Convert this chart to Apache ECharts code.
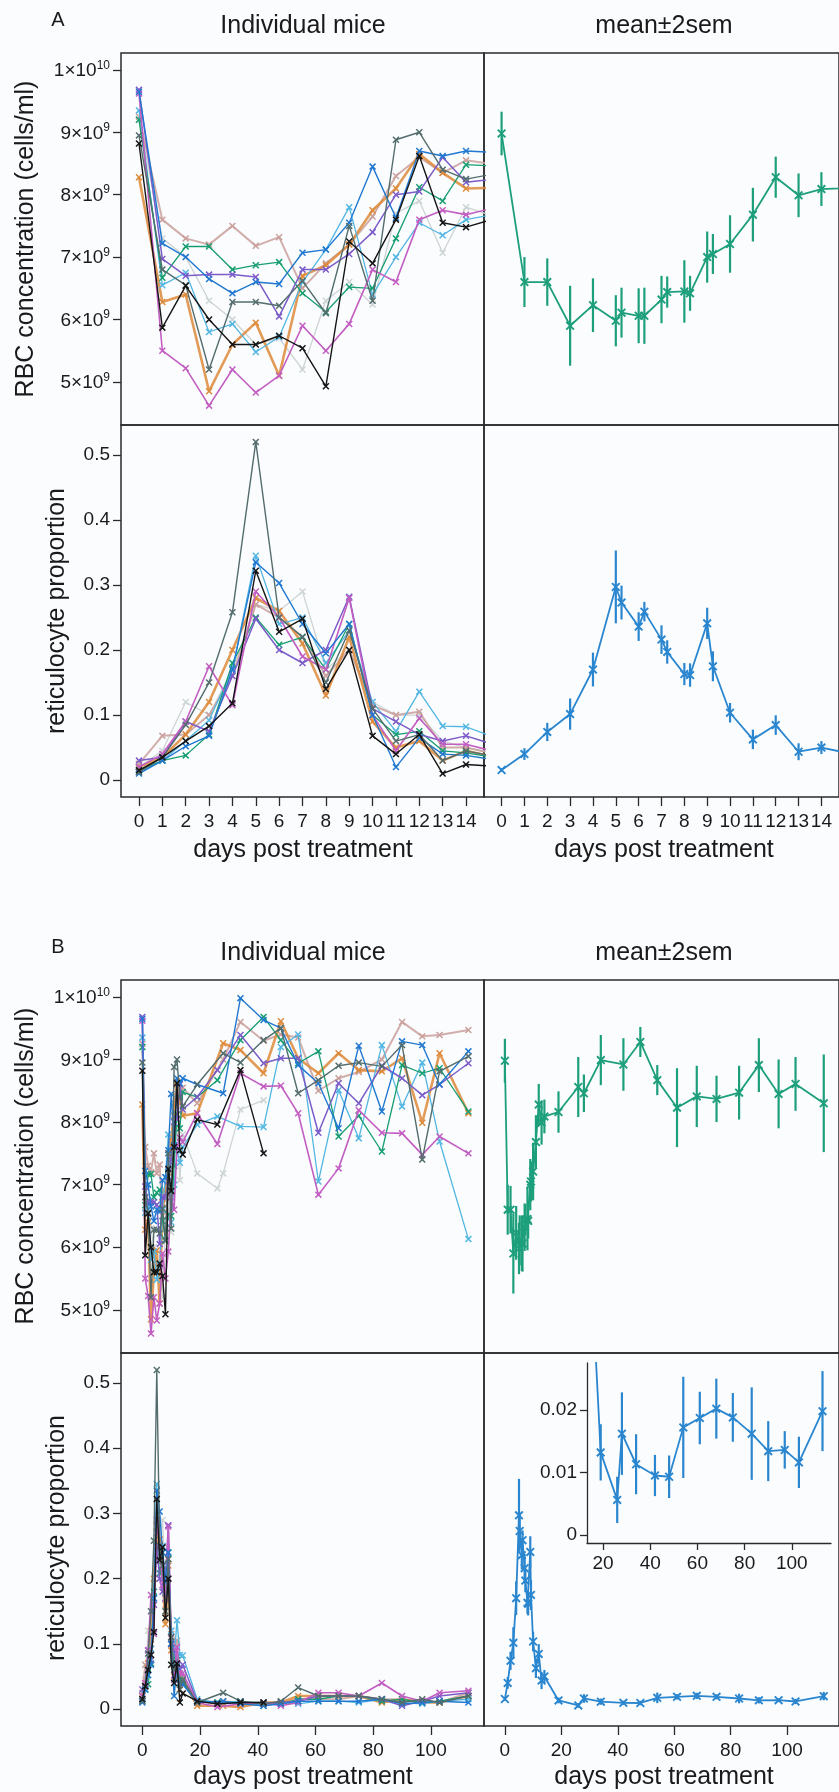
<!DOCTYPE html>
<html><head><meta charset="utf-8">
<script src="https://cdn.jsdelivr.net/npm/echarts@6/dist/echarts.min.js"></script>
<style>html,body{margin:0;padding:0;background:#fbfcfe}#c{width:839px;height:1792px}</style>
</head><body><div id="c"></div><script>
// ---------- DATA ----------
const DAYS_IND = [0,1,2,3,4,5,6,7,8,9,10,11,12,13,14,19,26,28,34,42,48,54,61,68,75,83,90,97,103,113];
const DAYS_MEAN = [0,1,2,3,4,5,5.25,6,6.25,7,7.25,8,8.25,9,9.25,10,11,12,13,14,19,26,28,34,42,48,54,61,68,75,83,90,97,103,113];

// RBC concentration in units of 1e9 cells/ml, one array per mouse
const rbcBlack   = [8.82,5.87,6.54,6.00,5.60,5.60,5.74,5.54,4.93,7.25,6.90,7.60,8.62,7.55,7.48, 8.04,7.96,null,8.83,7.50,null,null,null,null,null,null,null,null,null,null];
const rbcSlate   = [8.95,6.80,6.55,5.20,6.28,6.28,6.22,6.62,6.10,7.50,6.30,8.88,9.00,8.40,8.25, 8.60,null,9.10,8.95,9.31,9.50,8.46,8.67,8.90,8.95,8.89,9.23,7.40,8.81,9.05];
const rbcLight   = [9.20,7.30,7.00,6.30,6.00,5.60,5.70,5.20,6.30,6.60,6.24,7.70,7.90,7.07,7.80, 7.18,6.94,7.18,8.20,8.35,null,null,null,null,null,null,null,null,null,null];
const rbcBlue    = [9.65,7.22,7.00,6.65,6.42,6.60,6.57,7.07,7.12,7.55,8.45,7.63,8.70,8.62,8.70, 8.60,null,8.46,9.98,9.63,9.50,8.91,8.62,7.90,9.22,8.17,9.29,9.23,8.60,9.13];
const rbcCyan    = [9.35,6.55,6.75,5.80,5.93,5.48,5.72,6.60,7.12,7.80,6.40,7.00,7.55,7.35,7.60, 7.96,8.09,null,7.93,7.92,9.20,9.40,7.05,8.51,7.74,9.23,8.25,8.95,7.69,6.13];
const rbcGreen   = [9.20,6.67,7.17,7.17,6.80,6.87,6.92,6.42,6.12,6.52,6.50,7.30,8.12,7.90,8.48, 8.40,8.67,null,9.31,9.68,9.31,8.94,9.13,7.77,8.10,7.53,8.91,8.78,8.86,8.17];
const rbcOrange  = [8.28,6.28,6.40,4.85,5.60,5.95,5.10,6.70,6.87,7.20,7.75,8.10,8.65,8.35,8.10, 8.14,null,9.26,9.15,8.78,9.61,9.02,8.78,9.10,8.83,8.81,9.02,7.99,9.10,8.14];
const rbcTan     = [9.25,7.60,7.30,7.20,7.50,7.18,7.32,6.50,6.90,7.20,7.65,8.30,8.60,8.35,8.55, 8.30,null,9.00,9.60,9.30,9.40,9.35,8.50,8.70,8.80,9.00,9.60,9.37,9.39,9.47];
const rbcPurple  = [9.68,6.97,6.70,6.72,6.72,6.68,6.05,6.80,6.80,7.05,7.40,8.00,8.05,8.60,8.20, 8.40,8.83,null,9.39,8.94,9.02,9.02,7.83,8.62,8.30,8.90,8.70,8.43,8.60,8.94];
const rbcMagenta = [9.62,5.50,5.22,4.62,5.20,4.83,5.10,5.90,5.50,5.93,6.80,6.60,7.60,7.75,7.68, 8.14,7.65,null,8.78,8.57,8.58,8.14,6.84,7.26,8.19,7.83,7.82,7.48,7.77,7.50];

// reticulocyte proportion, one array per mouse
const retBlack   = [0.015,0.035,0.060,0.083,0.118,0.322,0.228,0.248,0.140,0.200,0.068,0.040,0.070,0.010,0.024, 0.012,0.008,null,0.010,0.010,null,null,null,null,null,null,null,null,null,null];
const retSlate   = [0.012,0.035,0.085,0.150,0.258,0.520,0.250,0.220,0.150,0.230,0.110,0.060,0.070,0.030,0.045, 0.010,null,0.025,0.012,0.008,0.012,0.033,0.020,0.020,0.020,0.015,0.010,0.015,0.010,0.020];
const retLight   = [0.020,0.045,0.120,0.100,0.170,0.270,0.260,0.290,0.170,0.200,0.120,0.100,0.100,0.060,0.050, 0.015,0.010,0.012,0.010,0.010,null,null,null,null,null,null,null,null,null,null];
const retBlue    = [0.010,0.030,0.052,0.068,0.170,0.335,0.303,0.240,0.195,0.240,0.100,0.020,0.065,0.040,0.038, 0.010,null,0.012,0.008,0.005,0.008,0.012,0.012,0.012,0.012,0.015,0.008,0.010,0.012,0.010];
const retCyan    = [0.012,0.030,0.060,0.092,0.170,0.345,0.240,0.250,0.180,0.230,0.120,0.075,0.136,0.083,0.082, 0.015,0.010,null,0.012,0.005,0.010,0.008,0.012,0.012,0.010,0.015,0.010,0.008,0.012,0.015];
const retGreen   = [0.015,0.030,0.038,0.070,0.180,0.250,0.208,0.220,0.170,0.240,0.100,0.070,0.075,0.045,0.042, 0.012,0.010,null,0.010,0.010,0.008,0.015,0.015,0.020,0.020,0.012,0.015,0.010,0.012,0.020];
const retOrange  = [0.020,0.035,0.070,0.120,0.200,0.280,0.260,0.210,0.130,0.220,0.090,0.050,0.060,0.030,0.045, 0.005,null,0.005,0.003,0.010,0.010,0.020,0.020,0.020,0.020,0.010,0.015,0.010,0.010,0.020];
const retTan     = [0.025,0.068,0.070,0.100,0.160,0.270,0.250,0.220,0.160,0.200,0.115,0.100,0.105,0.050,0.050, 0.010,null,0.012,0.010,0.005,0.010,0.015,0.015,0.015,0.020,0.015,0.015,0.012,0.010,0.025];
const retPurple  = [0.030,0.035,0.090,0.075,0.160,0.248,0.200,0.180,0.200,0.282,0.110,0.090,0.070,0.060,0.068, 0.012,0.008,null,0.010,0.008,0.010,0.012,0.020,0.020,0.020,0.015,0.005,0.012,0.020,0.025];
const retMagenta = [0.020,0.040,0.090,0.175,0.115,0.290,0.250,0.190,0.170,0.280,0.100,0.045,0.095,0.055,0.055, 0.010,0.003,null,0.008,0.010,0.005,0.010,0.025,0.025,0.020,0.040,0.020,0.012,0.025,0.028];

// means and 2*sem
const meanRBC = [8.98,6.60,6.60,5.90,6.23,5.98,6.11,6.06,6.06,6.32,6.44,6.45,6.42,7.00,7.05,7.21,7.68,8.28,7.99,8.09,8.16,8.56,8.46,8.99,8.92,9.28,8.67,8.23,8.41,8.37,8.47,8.91,8.45,8.61,8.30];
const semRBC  = [0.35,0.40,0.38,0.64,0.43,0.41,0.40,0.44,0.45,0.38,0.25,0.50,0.28,0.41,0.32,0.46,0.43,0.33,0.35,0.27,0.33,0.48,0.30,0.40,0.42,0.24,0.24,0.63,0.49,0.37,0.43,0.43,0.55,0.43,0.78];
const meanRet = [0.0154,0.040,0.074,0.1015,0.170,0.297,0.273,0.236,0.259,0.216,0.197,0.163,0.1615,0.241,0.175,0.1036,0.0626,0.0846,0.0436,0.050,0.0132,0.0056,0.0162,0.0113,0.0095,0.0093,0.0172,0.0187,0.0202,0.0188,0.0162,0.0134,0.0136,0.0116,0.0198];
const semRet  = [0.003,0.009,0.014,0.024,0.026,0.056,0.026,0.022,0.015,0.022,0.018,0.017,0.018,0.024,0.023,0.015,0.015,0.015,0.013,0.010,0.0045,0.0037,0.0066,0.0048,0.0033,0.0034,0.0081,0.0042,0.0048,0.0039,0.0074,0.0048,0.0030,0.0041,0.0064];

// tick labels
const TICKS_RBC = [5,6,7,8,9,10];
const TICKS_RET = [0,0.1,0.2,0.3,0.4,0.5];
const TICKS_XA = [0,1,2,3,4,5,6,7,8,9,10,11,12,13,14];
const TICKS_XB = [0,20,40,60,80,100];
const TICKS_INSET_X = [20,40,60,80,100];
const TICKS_INSET_Y = [0,0.01,0.02];

// ---------- STYLE ----------
const FONT = '"Liberation Sans", Arial, Helvetica, sans-serif';
const TXT = '#1a1a1a';
const BOX = '#2a2a2a';
const XPATH = 'path://M0,1.5L1.5,0L10,8.5L8.5,10Z M8.5,0L10,1.5L1.5,10L0,8.5Z';
const MICE = [
  {rbc: rbcLight,   ret: retLight,   color: '#cdd4d4', width: 1.3},
  {rbc: rbcTan,     ret: retTan,     color: '#c9a09c', width: 2.0},
  {rbc: rbcOrange,  ret: retOrange,  color: '#dd8a3a', width: 2.6},
  {rbc: rbcCyan,    ret: retCyan,    color: '#52b6e2', width: 1.3},
  {rbc: rbcGreen,   ret: retGreen,   color: '#179e70', width: 1.3},
  {rbc: rbcPurple,  ret: retPurple,  color: '#7b5cc8', width: 1.5},
  {rbc: rbcMagenta, ret: retMagenta, color: '#c25ec2', width: 1.6},
  {rbc: rbcBlue,    ret: retBlue,    color: '#2078d0', width: 1.4},
  {rbc: rbcSlate,   ret: retSlate,   color: '#536c6c', width: 1.4},
  {rbc: rbcBlack,   ret: retBlack,   color: '#151515', width: 1.4}
];
const GREEN = '#1d9f7c', BLUE = '#2a86cf';

// ---------- LAYOUT ----------
const LX = 121, RX = 484, PW = 363;
const grids = [], xAxes = [], yAxes = [], series = [];
function addGrid(left, top, w, h, show) {
  grids.push({left, top, width: w, height: h, show, borderColor: BOX, borderWidth: 1.5, backgroundColor: 'transparent'});
  return grids.length - 1;
}
function xAx(gi, min, max, ticks, show, line) {
  xAxes.push({type: 'value', gridIndex: gi, min, max, splitLine: {show: false},
    axisLine: {show: !!line, onZero: false, lineStyle: {color: BOX, width: 1.3}},
    axisTick: {show, length: line ? 7 : 9, lineStyle: {color: BOX, width: 1.3}, customValues: ticks},
    axisLabel: {show, customValues: ticks, margin: line ? 11 : 15, fontSize: 19, color: TXT, fontFamily: FONT}});
}
function yAx(gi, min, max, ticks, show, fmt, line) {
  const lab = {show, customValues: ticks, margin: line ? 10 : 11, fontSize: 19, color: TXT, fontFamily: FONT};
  if (fmt) { lab.formatter = fmt; lab.rich = {
      m: {fontSize: 19, fontFamily: FONT, color: TXT, verticalAlign: 'bottom'},
      s: {fontSize: 12, fontFamily: FONT, color: TXT, verticalAlign: 'bottom', padding: [0, 0, 9, 0]}}; }
  yAxes.push({type: 'value', gridIndex: gi, min, max, splitLine: {show: false},
    axisLine: {show: !!line, onZero: false, lineStyle: {color: BOX, width: 1.3}},
    axisTick: {show, length: line ? 7 : 8, lineStyle: {color: BOX, width: 1.3}, customValues: ticks},
    axisLabel: lab});
}
const rbcFmt = v => Math.abs(v - 10) < 1e-6 ? '{m|1×10}{s|10}' : '{m|' + Math.round(v) + '×10}{s|9}';
const retFmt = v => Math.abs(v) < 1e-9 ? '0' : String(+v.toFixed(2));

function indSeries(gi, key) {
  MICE.forEach((m, k) => {
    const data = [];
    DAYS_IND.forEach((d, i) => { if (m[key][i] != null) data.push([d, m[key][i]]); });
    series.push({type: 'line', xAxisIndex: gi, yAxisIndex: gi, data, clip: true, silent: true,
      symbol: XPATH, symbolSize: 7, showAllSymbol: true, z: 2 + k * 0.01,
      lineStyle: {color: m.color, width: m.width, opacity: m.width > 1.9 ? 0.85 : 1},
      itemStyle: {color: m.color, opacity: 1}});
  });
}
function meanSeries(gi, mean, sem, color, xmin) {
  const err = [];
  DAYS_MEAN.forEach((d, i) => { if (d >= (xmin || -100)) err.push([d, mean[i] - sem[i], mean[i] + sem[i]]); });
  series.push({type: 'custom', xAxisIndex: gi, yAxisIndex: gi, clip: true, silent: true, data: err,
    encode: {x: 0, y: [1, 2]},
    renderItem: (params, api) => {
      const lo = api.coord([api.value(0), api.value(1)]);
      const hi = api.coord([api.value(0), api.value(2)]);
      return {type: 'line', shape: {x1: lo[0], y1: lo[1], x2: hi[0], y2: hi[1]}, style: {stroke: color, lineWidth: 2.2}};
    }});
  series.push({type: 'line', xAxisIndex: gi, yAxisIndex: gi, clip: true, silent: true,
    data: DAYS_MEAN.map((d, i) => [d, mean[i]]), symbol: XPATH, symbolSize: 9, showAllSymbol: true,
    lineStyle: {color, width: 1.8}, itemStyle: {color}});
}

const RBC_MIN = 4.31, RBC_MAX = 10.27, RET_MIN = -0.026, RET_MAX = 0.546;
const blocks = [{top: 53, h: 372, xmin: -0.77, xmax: 14.77, ticks: TICKS_XA},
                {top: 980, h: 373, xmin: -7.4, xmax: 118.4, ticks: TICKS_XB}];
blocks.forEach(b => {
  let g;
  g = addGrid(LX, b.top, PW, b.h, true); xAx(g, b.xmin, b.xmax, b.ticks, false); yAx(g, RBC_MIN, RBC_MAX, TICKS_RBC, true, rbcFmt); indSeries(g, 'rbc');
  g = addGrid(RX, b.top, PW, b.h, true); xAx(g, b.xmin, b.xmax, b.ticks, false); yAx(g, RBC_MIN, RBC_MAX, TICKS_RBC, false); meanSeries(g, meanRBC, semRBC, GREEN);
  g = addGrid(LX, b.top + b.h, PW, b.h, true); xAx(g, b.xmin, b.xmax, b.ticks, true); yAx(g, RET_MIN, RET_MAX, TICKS_RET, true, retFmt); indSeries(g, 'ret');
  g = addGrid(RX, b.top + b.h, PW, b.h, true); xAx(g, b.xmin, b.xmax, b.ticks, true); yAx(g, RET_MIN, RET_MAX, TICKS_RET, false); meanSeries(g, meanRet, semRet, BLUE);
});
// inset
{
  const g = addGrid(587, 1363, 244, 180, false);
  xAx(g, 13.2, 116.6, TICKS_INSET_X, true, true);
  yAx(g, -0.0013, 0.0275, TICKS_INSET_Y, true, retFmt, true);
  meanSeries(g, meanRet, semRet, BLUE, 15);
}

function t(text, x, y, size, rot) {
  return {type: 'text', x, y, rotation: rot ? Math.PI / 2 : 0, silent: true,
    style: {text, fontSize: size, fontFamily: FONT, fill: TXT, align: 'center', verticalAlign: 'middle'}};
}
const graphic = [];
[[0, 'A'], [927, 'B']].forEach(([o, L]) => {
  graphic.push(t(L, 58, 20 + o, 20));
  graphic.push(t('Individual mice', 303, 26 + o, 25));
  graphic.push(t('mean±2sem', 664, 26 + o, 25));
  graphic.push(t('RBC concentration (cells/ml)', 26, 239 + o, 25, true));
  graphic.push(t('reticulocyte proportion', 57, 611 + o, 25, true));
  graphic.push(t('days post treatment', 303, 850 + o, 25));
  graphic.push(t('days post treatment', 664, 850 + o, 25));
});

const chart = echarts.init(document.getElementById('c'), null, {renderer: 'canvas'});
chart.setOption({backgroundColor: '#fbfcfe', animation: false, grid: grids, xAxis: xAxes, yAxis: yAxes, series, graphic});
</script></body></html>
